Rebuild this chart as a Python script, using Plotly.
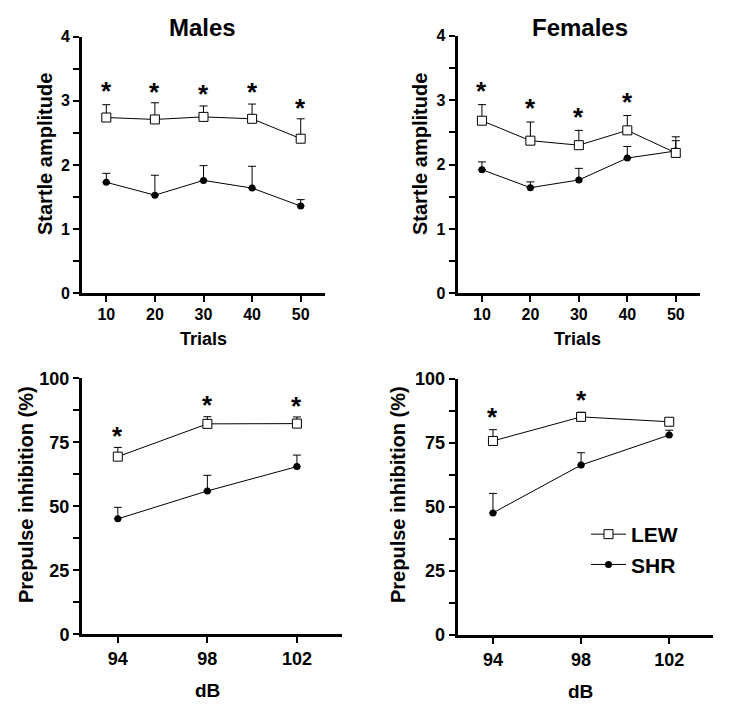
import plotly.graph_objects as go

# ---- data ----
trials = [10, 20, 30, 40, 50]
male_lew = [2.74, 2.71, 2.75, 2.72, 2.41]
male_lew_err = [0.20, 0.26, 0.17, 0.23, 0.31]
male_shr = [1.73, 1.53, 1.76, 1.64, 1.36]
male_shr_err = [0.14, 0.31, 0.23, 0.34, 0.10]
male_star = [3.21, 3.20, 3.17, 3.20, 2.95]

fem_lew = [2.68, 2.37, 2.30, 2.53, 2.18]
fem_lew_err = [0.25, 0.29, 0.23, 0.23, 0.19]
fem_shr = [1.92, 1.64, 1.76, 2.10, 2.21]
fem_shr_err = [0.12, 0.09, 0.18, 0.18, 0.22]
fem_star = [3.20, 2.94, 2.80, 3.03]

db = [94, 98, 102]
male_ppi_lew = [69.4, 82.2, 82.3]
male_ppi_lew_err = [3.6, 2.8, 2.6]
male_ppi_shr = [45.1, 56.0, 65.5]
male_ppi_shr_err = [4.5, 6.1, 4.5]
male_ppi_star = [78.9, 91.3, 90.9]

fem_ppi_lew = [75.8, 85.2, 83.3]
fem_ppi_lew_err = [4.4, 1.8, 0.0]
fem_ppi_shr = [47.7, 66.4, 78.1]
fem_ppi_shr_err = [7.6, 4.8, 1.9]
fem_ppi_star = [86.6, 93.5]

FONT = "Arial, Liberation Sans, sans-serif"

fig = go.Figure()

panels = [
    (trials, male_lew, male_lew_err, male_shr, male_shr_err, male_star, "x", "y"),
    (trials, fem_lew, fem_lew_err, fem_shr, fem_shr_err, fem_star, "x2", "y2"),
    (db, male_ppi_lew, male_ppi_lew_err, male_ppi_shr, male_ppi_shr_err, male_ppi_star, "x3", "y3"),
    (db, fem_ppi_lew, fem_ppi_lew_err, fem_ppi_shr, fem_ppi_shr_err, fem_ppi_star, "x4", "y4"),
]

for i, (xv, lew, lew_e, shr, shr_e, stars, xa, ya) in enumerate(panels):
    fig.add_trace(go.Scatter(
        x=xv, y=shr, mode="lines+markers", name="SHR", xaxis=xa, yaxis=ya,
        line=dict(color="black", width=1),
        marker=dict(symbol="circle", size=7, color="black"),
        error_y=dict(type="data", array=shr_e, arrayminus=[0] * len(shr_e),
                     symmetric=False, color="black", thickness=1, width=4),
        showlegend=False,
    ))
    fig.add_trace(go.Scatter(
        x=xv, y=lew, mode="lines+markers", name="LEW", xaxis=xa, yaxis=ya,
        line=dict(color="black", width=1),
        marker=dict(symbol="square", size=9, color="white",
                    line=dict(color="black", width=1)),
        error_y=dict(type="data", array=lew_e, arrayminus=[0] * len(lew_e),
                     symmetric=False, color="black", thickness=1, width=4),
        showlegend=False,
    ))
    for xs, ys in zip(xv, stars):
        fig.add_annotation(x=xs, y=ys, xref=xa, yref=ya, text="<b>*</b>",
                           showarrow=False, yanchor="middle", yshift=-4,
                           font=dict(family=FONT, size=26, color="black"))

fig.add_trace(go.Scatter(x=[None], y=[None], mode="lines+markers", name="LEW",
                         line=dict(color="black", width=1),
                         marker=dict(symbol="square", size=9, color="white",
                                     line=dict(color="black", width=1)),
                         xaxis="x4", yaxis="y4", showlegend=True))
fig.add_trace(go.Scatter(x=[None], y=[None], mode="lines+markers", name="SHR",
                         line=dict(color="black", width=1),
                         marker=dict(symbol="circle", size=7, color="black"),
                         xaxis="x4", yaxis="y4", showlegend=True))

W, H = 751, 714
OFF = 8  # page body margin
def px_x(p):
    return (p - OFF) / W
def px_y(p):
    return 1 - (p - OFF) / H

doms = {
    1: ([82, 325], [36.7, 293.3]),
    2: ([457.7, 700], [35.7, 293.3]),
    3: ([82, 341.7], [378.3, 634.3]),
    4: ([457.7, 713.3], [379, 635]),
}

layout = dict(
    width=W, height=H, margin=dict(l=0, r=0, t=0, b=0, autoexpand=False),
    paper_bgcolor="white", plot_bgcolor="white",
    showlegend=True,
    legend=dict(x=px_x(586), y=px_y(514), xanchor="left", yanchor="top",
                font=dict(family=FONT, size=21, color="black", weight="bold"),
                bgcolor="rgba(0,0,0,0)", tracegroupgap=0, itemwidth=35),
)

for k in range(1, 5):
    xd, yd = doms[k]
    suffix = "" if k == 1 else str(k)
    fsz = 16 if k <= 2 else 18
    common = dict(
        showline=True, linecolor="black", linewidth=3, showgrid=False, zeroline=False,
        ticks="outside", ticklen=6, tickwidth=2, tickcolor="black",
        tickfont=dict(family=FONT, size=fsz, color="black", weight="bold"),
        fixedrange=True, automargin=False,
    )
    xa = dict(common)
    ya = dict(common)
    xa["domain"] = [px_x(xd[0]), px_x(xd[1])]
    ya["domain"] = [px_y(yd[1]), px_y(yd[0])]
    xa["anchor"] = "y" + suffix
    ya["anchor"] = "x" + suffix
    if k <= 2:
        xa.update(range=[5, 55], tickvals=trials, ticktext=[str(t) for t in trials],
                  ticklabelstandoff=-2)
        ya.update(range=[0, 4], tickvals=[0, 1, 2, 3, 4],
                  minor=dict(dtick=0.5, tick0=0, ticks="outside", ticklen=6,
                             tickwidth=2, tickcolor="black"))
    else:
        xa.update(range=[92.4, 104.0], tickvals=db, ticktext=[str(d) for d in db])
        ya.update(range=[0, 100], tickvals=[0, 25, 50, 75, 100],
                  minor=dict(dtick=12.5, tick0=0, ticks="outside", ticklen=6,
                             tickwidth=2, tickcolor="black"))
    layout["xaxis" + suffix] = xa
    layout["yaxis" + suffix] = ya

fig.update_layout(**layout)

texts = [
    ("Males", 202, 27, 0, 24),
    ("Females", 580, 27, 0, 24),
    ("Trials", 203, 339, 0, 18),
    ("Trials", 577, 339, 0, 18),
    ("dB", 207, 690, 0, 19),
    ("dB", 580, 691, 0, 19),
    ("Startle amplitude", 45, 154, -90, 20),
    ("Startle amplitude", 420, 154, -90, 20),
    ("Prepulse inhibition (%)", 26, 495, -90, 20),
    ("Prepulse inhibition (%)", 398, 495, -90, 20),
]
for t, x, y, ang, sz in texts:
    fig.add_annotation(x=px_x(x), y=px_y(y), xref="paper", yref="paper", text="<b>" + t + "</b>",
                       showarrow=False, textangle=ang, xanchor="center", yanchor="middle",
                       font=dict(family=FONT, size=sz, color="black"))

fig.write_html("out.html")
